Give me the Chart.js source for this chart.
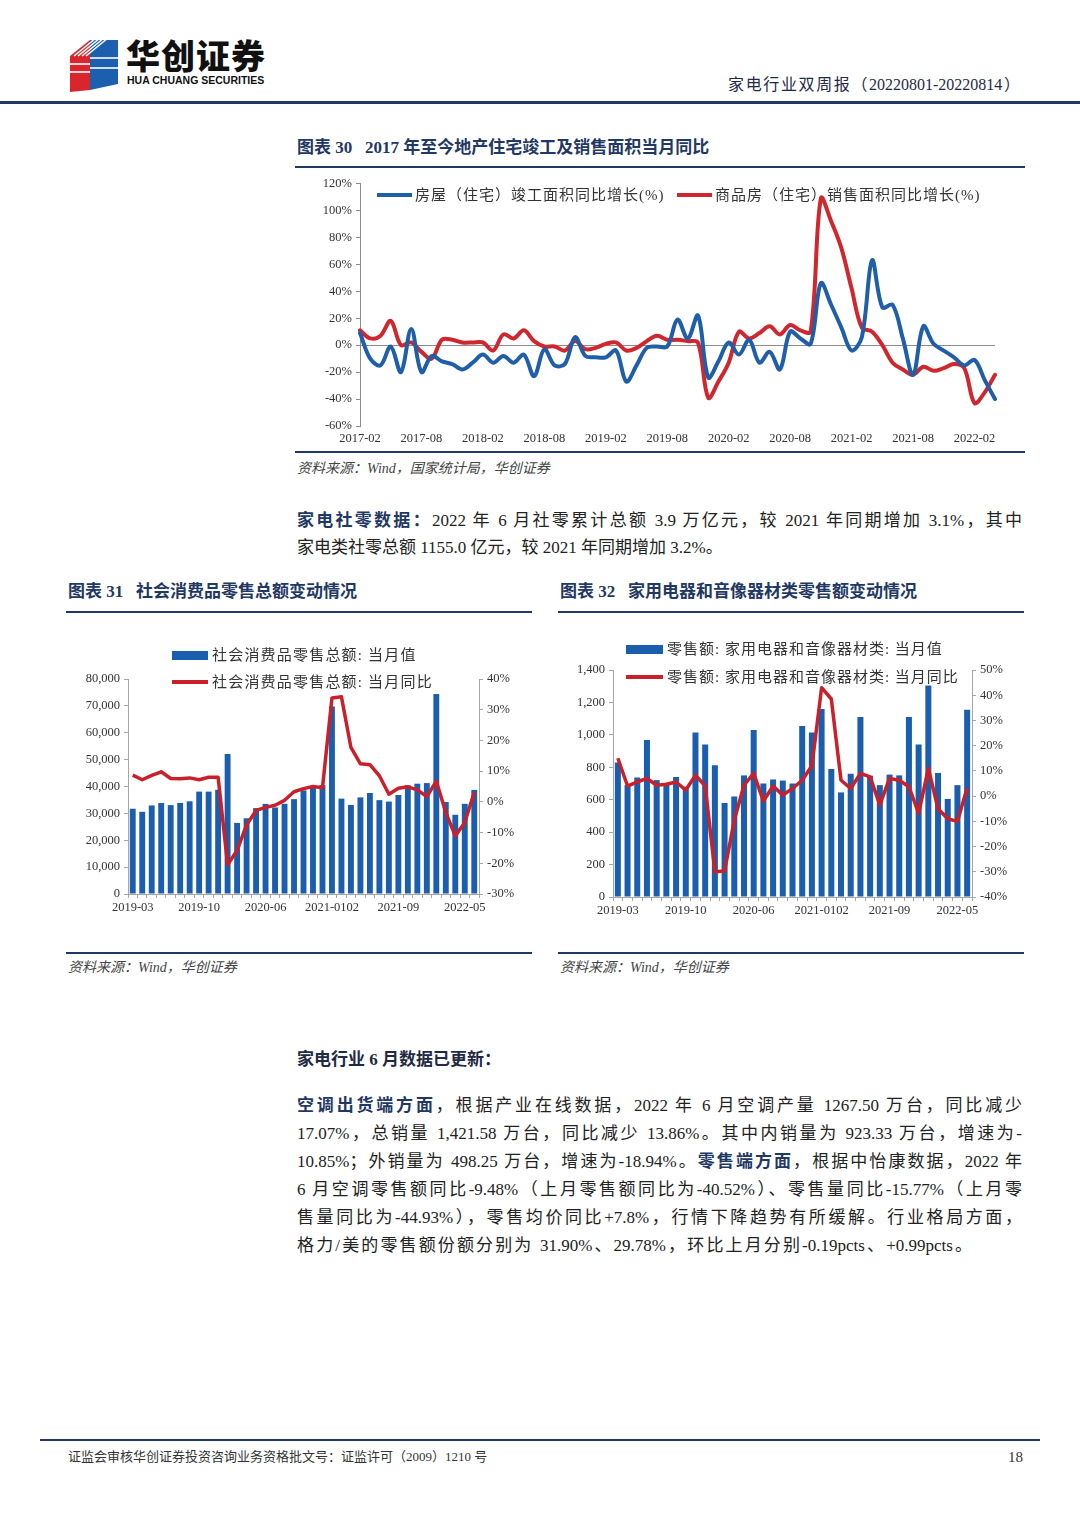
<!DOCTYPE html>
<html><head><meta charset="utf-8">
<script src="https://cdn.jsdelivr.net/npm/chart.js@4.4.1/dist/chart.umd.min.js"></script>
<style>
html,body{margin:0;padding:0;background:#fff}
body{width:1080px;height:1527px;position:relative;overflow:hidden;font-family:"Liberation Serif","Noto Sans CJK SC",serif;color:#222}
.a{position:absolute;white-space:nowrap}
.hl{position:absolute;background:#1f3864}
.title{font-size:17px;font-weight:bold;color:#1f3864;line-height:20px}
.src{font-size:14px;font-style:italic;color:#444;line-height:18px}
.jl{position:absolute;left:297px;width:725px;font-size:17px;line-height:28px;text-align:justify;text-align-last:justify;color:#222}
.nl{position:absolute;left:297px;font-size:17px;line-height:28px;color:#222;white-space:nowrap}
.kb{font-weight:bold;color:#1f3864}
.lg{position:absolute;font-size:15px;line-height:18px;color:#333;white-space:nowrap}
.sw{position:absolute}
canvas{position:absolute}
</style>
</head><body>

<!-- header -->
<svg class="a" style="left:66px;top:34px" width="58" height="62" viewBox="0 0 58 62">
  <polygon points="4,22 24,6 24,56 4,58" fill="#d8262c"/>
  <polygon points="24,6 52,6 52,50 24,56" fill="#1b5fae"/>
  <g stroke="#fff" stroke-width="1.6">
    <line x1="8" y1="22" x2="30" y2="4"/><line x1="12" y1="22" x2="34" y2="4"/>
    <line x1="16" y1="22" x2="38" y2="4"/><line x1="20" y1="22" x2="42" y2="4"/>
    <line x1="4" y1="30" x2="24" y2="30"/><line x1="4" y1="38" x2="24" y2="38"/>
    <line x1="24" y1="24" x2="52" y2="24"/><line x1="24" y1="34" x2="52" y2="34"/>
  </g>
</svg>
<div class="a" style="left:126px;top:36px;font-family:'Noto Sans CJK SC';font-weight:900;font-size:34px;line-height:38px;color:#111;letter-spacing:1px">华创证券</div>
<div class="a" style="left:127px;top:74px;font-family:'Liberation Sans Narrow','Liberation Sans';font-weight:bold;font-size:10.5px;line-height:13px;color:#111;letter-spacing:0px">HUA CHUANG SECURITIES</div>
<div class="a" style="left:728px;top:75px;width:292px;font-size:16px;line-height:20px;color:#1f2a44;text-align:justify;text-align-last:justify;white-space:normal">家电行业双周报（20220801-20220814）</div>
<div class="hl" style="left:0;top:101px;width:1080px;height:3px"></div>

<!-- chart 30 -->
<div class="a title" style="left:297px;top:138px">图表 30&nbsp;&nbsp;&nbsp;2017 年至今地产住宅竣工及销售面积当月同比</div>
<div class="hl" style="left:295px;top:166px;width:730px;height:2px"></div>
<canvas id="c30" width="730" height="279" style="left:295px;top:172px;width:730px;height:279px"></canvas>
<div class="sw" style="left:377px;top:193px;width:35px;height:4px;background:#1f5ea8"></div>
<div class="lg" style="left:415px;top:186px;letter-spacing:1px">房屋（住宅）竣工面积同比增长(%)</div>
<div class="sw" style="left:677px;top:193px;width:35px;height:4px;background:#d0262d"></div>
<div class="lg" style="left:715px;top:186px;letter-spacing:1px">商品房（住宅）销售面积同比增长(%)</div>
<div class="hl" style="left:295px;top:451px;width:730px;height:2px"></div>
<div class="a src" style="left:297px;top:460px">资料来源：Wind，国家统计局，华创证券</div>

<!-- paragraph 1 -->
<div class="jl" style="top:507px"><span class="kb">家电社零数据：</span>2022 年 6 月社零累计总额 3.9 万亿元，较 2021 年同期增加 3.1%，其中</div>
<div class="nl" style="top:534px">家电类社零总额 1155.0 亿元，较 2021 年同期增加 3.2%。</div>

<!-- chart 31 -->
<div class="a title" style="left:68px;top:582px">图表 31&nbsp;&nbsp;&nbsp;社会消费品零售总额变动情况</div>
<div class="hl" style="left:66px;top:611px;width:466px;height:2px"></div>
<canvas id="c31" width="466" height="310" style="left:66px;top:620px;width:466px;height:310px"></canvas>
<div class="sw" style="left:172px;top:651px;width:36px;height:9px;background:#1c5eae"></div>
<div class="lg" style="left:212px;top:646px;letter-spacing:1.2px">社会消费品零售总额: 当月值</div>
<div class="sw" style="left:172px;top:680px;width:36px;height:4px;background:#c9202a"></div>
<div class="lg" style="left:212px;top:673px;letter-spacing:1.2px">社会消费品零售总额: 当月同比</div>
<div class="hl" style="left:66px;top:952px;width:466px;height:2px"></div>
<div class="a src" style="left:68px;top:959px">资料来源：Wind，华创证券</div>

<!-- chart 32 -->
<div class="a title" style="left:560px;top:582px">图表 32&nbsp;&nbsp;&nbsp;家用电器和音像器材类零售额变动情况</div>
<div class="hl" style="left:558px;top:611px;width:466px;height:2px"></div>
<canvas id="c32" width="466" height="310" style="left:558px;top:620px;width:466px;height:310px"></canvas>
<div class="sw" style="left:626px;top:645px;width:37px;height:9px;background:#1c5eae"></div>
<div class="lg" style="left:667px;top:640px;letter-spacing:1px">零售额: 家用电器和音像器材类: 当月值</div>
<div class="sw" style="left:626px;top:675px;width:37px;height:4px;background:#c9202a"></div>
<div class="lg" style="left:667px;top:668px;letter-spacing:1px">零售额: 家用电器和音像器材类: 当月同比</div>
<div class="hl" style="left:558px;top:952px;width:466px;height:2px"></div>
<div class="a src" style="left:560px;top:959px">资料来源：Wind，华创证券</div>

<!-- paragraph 2 -->
<div class="nl" style="top:1046px;font-weight:bold;color:#1f2a44">家电行业 6 月数据已更新：</div>
<div class="jl" style="top:1092px"><span class="kb">空调出货端方面</span>，根据产业在线数据，2022 年 6 月空调产量 1267.50 万台，同比减少</div>
<div class="jl" style="top:1120px">17.07%，总销量 1,421.58 万台，同比减少 13.86%。其中内销量为 923.33 万台，增速为-</div>
<div class="jl" style="top:1148px">10.85%；外销量为 498.25 万台，增速为-18.94%。<span class="kb">零售端方面</span>，根据中怡康数据，2022 年</div>
<div class="jl" style="top:1176px">6 月空调零售额同比-9.48%（上月零售额同比为-40.52%）、零售量同比-15.77%（上月零</div>
<div class="jl" style="top:1204px">售量同比为-44.93%），零售均价同比+7.8%，行情下降趋势有所缓解。行业格局方面，</div>
<div class="jl" style="top:1232px;width:675px">格力/美的零售额份额分别为 31.90%、29.78%，环比上月分别-0.19pcts、+0.99pcts。</div>

<!-- footer -->
<div class="hl" style="left:40px;top:1439px;width:1000px;height:2px"></div>
<div class="a" style="left:68px;top:1449px;font-size:13px;line-height:16px;color:#333">证监会审核华创证券投资咨询业务资格批文号：证监许可（2009）1210 号</div>
<div class="a" style="left:1008px;top:1448px;font-size:15px;line-height:18px;color:#333">18</div>

<script>
// ---------- Chart 30 data ----------
const months30 = [
 '2017-02','2017-03','2017-04','2017-05','2017-06','2017-07','2017-08','2017-09','2017-10','2017-11','2017-12',
 '2018-01','2018-02','2018-03','2018-04','2018-05','2018-06','2018-07','2018-08','2018-09','2018-10','2018-11','2018-12',
 '2019-01','2019-02','2019-03','2019-04','2019-05','2019-06','2019-07','2019-08','2019-09','2019-10','2019-11','2019-12',
 '2020-01','2020-02','2020-03','2020-04','2020-05','2020-06','2020-07','2020-08','2020-09','2020-10','2020-11','2020-12',
 '2021-01','2021-02','2021-03','2021-04','2021-05','2021-06','2021-07','2021-08','2021-09','2021-10','2021-11','2021-12',
 '2022-01','2022-02','2022-03','2022-04'];
const completionYoY = [9,-10,-15,-1,-20,12,-20,-8,-12,-14,-18,
 -13,-7,-13,-8,-13,-7,-23,-3,-15,-14,6,-8,
 -9,-9,-4,-27,-15,-2,-1,-1,19,5,22,-24,
 -12,2,-7,4,-13,-5,-18,10,5,1,46,30,
 13,-4,6,63,28,30,5,-22,14,1,-4,-9,
 -15,-11,-26,-40];
const salesYoY = [11,5,7,18,0,2,-5,-10,4,4,2,
 2,2,-4,8,5,11,3,-1,-1,-4,3,-3,
 -2,1,2,-4,-2,3,7,4,4,3,2,-39,
 -27,-13,10,5,9,14,8,15,11,10,109,92,
 72,42,13,10,0,-13,-18,-22,-16,-19,-17,-14,
 -17,-43,-35,-22];
const yTicks30 = {min:-60, max:120, step:20};

// ---------- Chart 31 / 32 data ----------
const months31 = ['2019-03','2019-04','2019-05','2019-06','2019-07','2019-08','2019-09','2019-10','2019-11','2019-12',
 '2020-0102','2020-03','2020-04','2020-05','2020-06','2020-07','2020-08','2020-09','2020-10','2020-11','2020-12',
 '2021-0102','2021-03','2021-04','2021-05','2021-06','2021-07','2021-08','2021-09','2021-10','2021-11','2021-12',
 '2022-0102','2022-03','2022-04','2022-05','2022-06'];
const retailValue = [31726,30586,32956,33878,33073,33896,34495,38104,38094,38777,
 52130,26450,28178,31973,33526,32203,33571,35295,38576,39514,40566,
 69737,35484,33153,35945,37586,34925,34395,36833,40454,41043,41269,
 74426,34233,29483,33547,38742];
const retailYoY = [8.7,7.2,8.6,9.8,7.6,7.5,7.8,7.2,8.0,8.0,
 -20.5,-15.8,-7.5,-2.8,-1.8,-1.1,0.5,3.3,4.3,5.0,4.6,
 33.8,34.2,17.7,12.4,12.1,8.5,2.5,4.4,4.9,3.9,1.7,
 6.7,-3.5,-11.1,-6.7,3.1];
const applianceValue = [830,690,737,968,721,700,740,680,1015,940,
 813,580,620,750,1030,700,725,718,700,1055,1015,
 1160,790,645,760,1110,748,690,755,750,1110,940,
 1305,765,605,690,1155];
const applianceYoY = [15,4,5.6,7,4.3,4.7,5.6,2.4,8.3,4,
 -30,-29.7,-9.5,4.3,9,-2,4,0.4,3,6.3,12,
 43,38.5,6.3,3,9,7.6,-3.5,7,6.3,3.7,-6.8,
 11,-5,-9,-10,3.2];

const legend30 = ['房屋（住宅）竣工面积同比增长(%)','商品房（住宅）销售面积同比增长(%)'];
const legend31 = ['社会消费品零售总额: 当月值','社会消费品零售总额: 当月同比'];
const legend32 = ['零售额: 家用电器和音像器材类: 当月值','零售额: 家用电器和音像器材类: 当月同比'];

Chart.defaults.font.family = '"Liberation Serif","Noto Sans CJK SC",serif';
Chart.defaults.color = '#404040';
Chart.defaults.animation = false;

const BLUE = '#1f5ea8', RED = '#d0262d', BAR = '#1c5eae', RED2 = '#c9202a', AX = '#8c8c8c';

new Chart(document.getElementById('c30'), {
  type:'line',
  data:{labels:months30, datasets:[
    {label:legend30[0], data:completionYoY, borderColor:BLUE, borderWidth:4, pointRadius:0, tension:0.35, fill:false, borderCapStyle:'round', borderJoinStyle:'round'},
    {label:legend30[1], data:salesYoY, borderColor:RED, borderWidth:4, pointRadius:0, tension:0.35, fill:false, borderCapStyle:'round', borderJoinStyle:'round'}
  ]},
  options:{
    responsive:false, maintainAspectRatio:false,
    layout:{padding:{top:11,right:30,left:0,bottom:0}},
    plugins:{legend:{display:false}, tooltip:{enabled:false}},
    scales:{
      x:{grid:{display:false, drawTicks:false, tickLength:0}, border:{display:false},
         ticks:{autoSkip:false, maxRotation:0, minRotation:0, padding:5, font:{size:12.5}, color:'#333',
                callback:(v,i)=> i%6===0 ? months30[i] : ''},
         afterFit:s=>{s.height=25;}},
      y:{min:yTicks30.min, max:yTicks30.max,
         ticks:{stepSize:yTicks30.step, font:{size:12.5}, color:'#333', padding:4, callback:v=>v+'%'},
         grid:{color:c=>c.tick && c.tick.value===0 ? AX : 'rgba(0,0,0,0)', tickColor:AX, tickLength:4, lineWidth:1},
         border:{color:AX},
         afterFit:s=>{s.width=65;}}
    }
  }
});

function comboChart(id, labels, values, yoy, names, leftOpt, rightOpt, pads){
  new Chart(document.getElementById(id), {
    type:'bar',
    data:{labels, datasets:[
      {type:'line', label:names[1], data:yoy, yAxisID:'y1', borderColor:RED2, borderWidth:3.5, pointRadius:0, tension:0, order:0, borderJoinStyle:'round'},
      {type:'bar', label:names[0], data:values, yAxisID:'y', backgroundColor:BAR, barPercentage:0.62, categoryPercentage:1, order:1}
    ]},
    options:{
      responsive:false, maintainAspectRatio:false,
      layout:{padding:{top:pads.top,left:0,right:0,bottom:0}},
      plugins:{legend:{display:false}, tooltip:{enabled:false}},
      scales:{
        x:{offset:true, grid:{drawOnChartArea:false, color:'#a6a6a6', tickLength:4}, border:{color:'#a6a6a6'},
           ticks:{autoSkip:false, maxRotation:0, minRotation:0, padding:2, font:{size:12.5}, color:'#333',
                  callback:(v,i)=> i%7===0 ? labels[i] : ''},
           afterFit:s=>{s.height=pads.xh;}},
        y:{position:'left', min:leftOpt.min, max:leftOpt.max,
           ticks:{stepSize:leftOpt.step, font:{size:12.5}, color:'#333', padding:4, callback:v=>v.toLocaleString('en-US')},
           grid:{drawOnChartArea:false, color:'#a6a6a6', tickLength:4}, border:{color:'#a6a6a6'},
           afterFit:s=>{s.width=pads.lw;}},
        y1:{position:'right', min:rightOpt.min, max:rightOpt.max,
           ticks:{stepSize:rightOpt.step, font:{size:12.5}, color:'#333', padding:4, callback:v=>v+'%'},
           grid:{drawOnChartArea:false, color:'#a6a6a6', tickLength:4}, border:{color:'#a6a6a6'},
           afterFit:s=>{s.width=pads.rw;}}
      }
    }
  });
}
comboChart('c31', months31, retailValue, retailYoY, legend31,
  {min:0,max:80000,step:10000}, {min:-30,max:40,step:10}, {top:59, xh:36, lw:62, rw:53});
comboChart('c32', months31, applianceValue, applianceYoY, legend32,
  {min:0,max:1400,step:200}, {min:-40,max:50,step:10}, {top:50, xh:33, lw:55, rw:52});
</script>
</body></html>
